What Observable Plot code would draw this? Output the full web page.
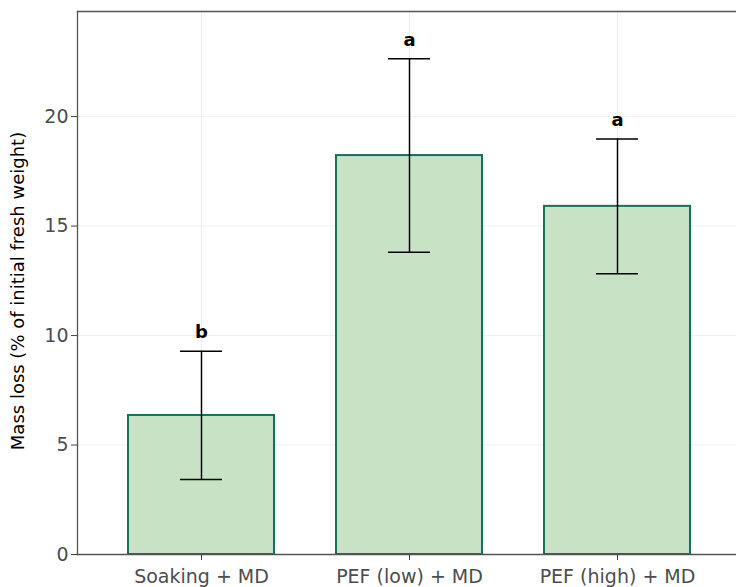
<!DOCTYPE html>
<html><head><meta charset="utf-8">
<script src="https://cdn.jsdelivr.net/npm/d3@7"></script>
<script src="https://cdn.jsdelivr.net/npm/@observablehq/plot@0.6"></script>
<style>body{margin:0;background:#fff;overflow:hidden} #chart svg{overflow:hidden;font-family:"DejaVu Sans",sans-serif}</style>
</head><body><div id="chart"></div>
<script>
const treatments = ["Soaking + MD", "PEF (low) + MD", "PEF (high) + MD"];
const massLoss = [6.35, 18.22, 15.9];
const sd = [2.93, 4.42, 3.08];
const letters = ["b", "a", "a"];
const yTicks = [0, 5, 10, 15, 20];
const yTitle = "Mass loss (% of initial fresh weight)";

const data = treatments.map((t, i) => ({t, m: massLoss[i], lo: massLoss[i] - sd[i], hi: massLoss[i] + sd[i], l: letters[i]}));

const chart = Plot.plot({
  width: 736, height: 587,
  marginLeft: 77, marginRight: 0, marginTop: 11, marginBottom: 33,
  style: {fontFamily: "'DejaVu Sans', sans-serif", color: "#4d4d4d", background: "#fff"},
  x: {domain: treatments, range: [77, 741], paddingInner: 0.3, paddingOuter: 0.2425, label: null, axis: null},
  y: {domain: [0, 24.8], label: null, axis: null},
  marks: [
    Plot.ruleX(treatments, {stroke: "#efefef", strokeWidth: 1}),
    Plot.ruleY(yTicks, {stroke: "#efefef", strokeWidth: 1}),
    Plot.barY(data, {x: "t", y: "m", fill: "#c7e2c5", stroke: "#13705a", strokeWidth: 2}),
    Plot.ruleX(data, {x: "t", y1: "lo", y2: "hi", stroke: "black", strokeWidth: 1.5}),
    Plot.tickY(data, {x: "t", y: "lo", stroke: "black", strokeWidth: 1.5, inset: 52}),
    Plot.tickY(data, {x: "t", y: "hi", stroke: "black", strokeWidth: 1.5, inset: 52}),
    Plot.text(data, {x: "t", y: "hi", text: "l", dy: -19, fontSize: 18, fontWeight: "bold", fill: "black"}),
    Plot.frame({anchor: "left", stroke: "#555", strokeWidth: 1.3}),
    Plot.frame({anchor: "top", stroke: "#555", strokeWidth: 1.3}),
    Plot.frame({anchor: "bottom", stroke: "#555", strokeWidth: 1.3}),
    Plot.axisY({ticks: yTicks, tickSize: 6, tickPadding: 3, fontSize: 19, stroke: "#444", fill: "#4d4d4d", label: null}),
    Plot.axisX({tickSize: 6, tickPadding: 9, fontSize: 19, stroke: "#444", fill: "#4d4d4d", label: null}),
    Plot.text([yTitle], {frameAnchor: "left", textAnchor: "middle", dx: -59, dy: 8, rotate: -90, fontSize: 18, fill: "black"})
  ]
});
document.getElementById("chart").appendChild(chart);
</script>
</body></html>
